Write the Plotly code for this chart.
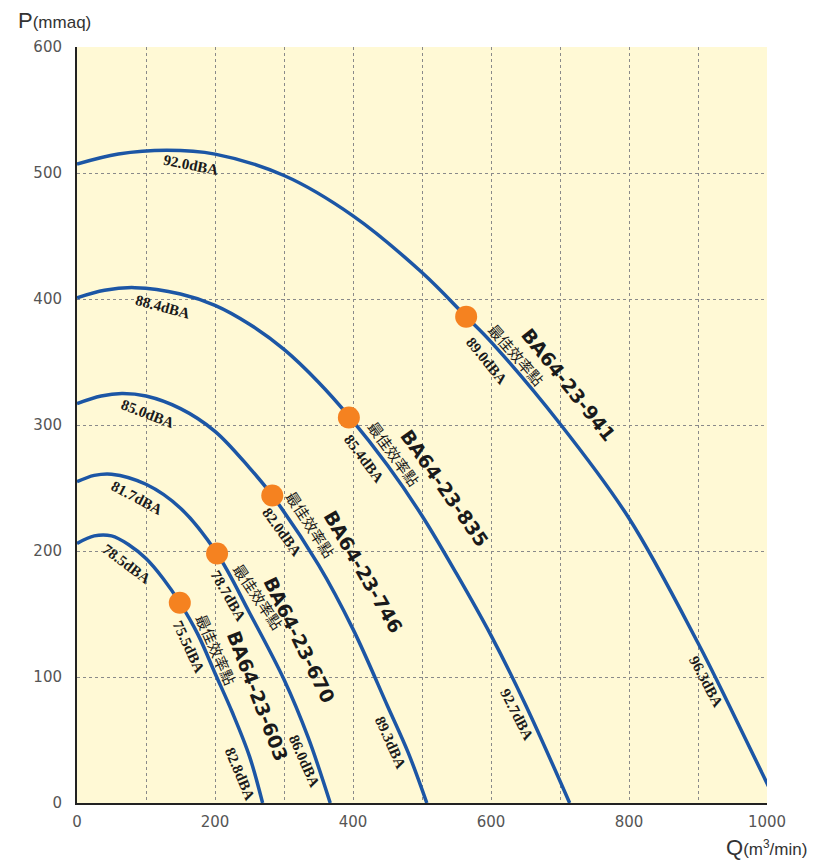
import plotly.graph_objects as go

# ---- data ----
models = ["BA64-23-603", "BA64-23-670", "BA64-23-746", "BA64-23-835", "BA64-23-941"]

q_603 = [0, 25, 50, 75, 100, 125, 149, 175, 200, 225, 250, 269]
p_603 = [206, 212, 212, 205, 194, 178, 159, 134, 103, 72, 37, 0]

q_670 = [0, 25, 50, 100, 150, 203, 250, 300, 335, 367]
p_670 = [255, 260, 261, 253, 234, 198, 151, 98, 52, 0]

q_746 = [0, 35, 65, 100, 150, 200, 250, 283, 350, 400, 450, 480, 507]
p_746 = [317, 323, 325, 323, 313, 295, 266, 244, 189, 138, 77, 40, 0]

q_835 = [0, 40, 84, 150, 200, 250, 300, 350, 394, 450, 500, 550, 600, 650, 714]
p_835 = [401, 407, 409, 404, 395, 380, 360, 334, 307, 268, 228, 182, 133, 78, 0]

q_941 = [0, 60, 130, 200, 300, 400, 500, 564, 600, 700, 800, 900, 950, 1014]
p_941 = [507, 515, 518, 515, 498, 466, 421, 386, 366, 301, 226, 127, 72, 0]

best_q = [149, 203, 283, 394, 564]
best_p = [159, 198, 244, 306, 386]

# noise labels: (text, x, y, angle)
peak_labels = [("78.5dBA", 72, 190, 37), ("81.7dBA", 87, 242, 28), ("85.0dBA", 103, 309, 21),
               ("88.4dBA", 125, 394, 15), ("92.0dBA", 165, 506, 11)]
best_labels = [("75.5dBA", 162, 124, 65), ("78.7dBA", 219, 164, 60), ("82.0dBA", 297, 215, 54),
               ("85.4dBA", 416, 273, 53), ("89.0dBA", 594, 351, 51)]
end_labels = [("82.8dBA", 236, 23, 67), ("86.0dBA", 329, 33, 66), ("89.3dBA", 455, 48, 66),
              ("92.7dBA", 638, 70, 63), ("96.3dBA", 912, 96, 62)]
best_text = "最佳效率點"
best_text_pos = [(202, 122, 66), (263, 164, 56), (339, 221, 57), (459, 277, 54), (637, 356, 49)]
model_pos = [(262, 85, 69), (322, 129, 64), (415, 183, 60), (533, 250, 55), (713, 332, 51.5)]

x_ticks = [0, 200, 400, 600, 800, 1000]
y_ticks = [0, 100, 200, 300, 400, 500, 600]

curve_color = "#1C56A5"
dot_color = "#F58220"
grid_color = "#8a8a8a"

fig = go.Figure()
for q, p in [(q_603, p_603), (q_670, p_670), (q_746, p_746), (q_835, p_835), (q_941, p_941)]:
    fig.add_trace(go.Scatter(x=q, y=p, mode="lines",
                             line=dict(color=curve_color, width=3.5, shape="spline", smoothing=1.0),
                             hoverinfo="skip", showlegend=False))

fig.add_trace(go.Scatter(x=best_q, y=best_p, mode="markers",
                         marker=dict(color=dot_color, size=22, line=dict(width=0)),
                         hoverinfo="skip", showlegend=False))

serif = dict(family="Liberation Serif", size=15, color="#1a1a1a")
ann = []
for t, x, y, a in peak_labels + best_labels + end_labels:
    ann.append(dict(x=x, y=y, xref="x", yref="y", text="<b>%s</b>" % t, showarrow=False,
                    textangle=a, font=serif, xanchor="center", yanchor="middle"))
for (x, y, a) in best_text_pos:
    ann.append(dict(x=x, y=y, xref="x", yref="y", text=best_text, showarrow=False,
                    textangle=a, font=dict(family="Noto Sans CJK TC", size=15, color="#1a1a1a"),
                    xanchor="center", yanchor="middle"))
for m, (x, y, a) in zip(models, model_pos):
    ann.append(dict(x=x, y=y, xref="x", yref="y", text="<b>%s</b>" % m, showarrow=False,
                    textangle=a, font=dict(family="DejaVu Sans", size=19, color="#1a1a1a"),
                    xanchor="center", yanchor="middle"))

# axis titles (paper coords relative to plot area 77..767 x 47..803 in window pixels)
ann.append(dict(x=(16 - 77) / 690, y=(803 - 21) / 756, xref="paper", yref="paper",
                text="P<span style='font-size:17px'>(mmaq)</span>", showarrow=False,
                xanchor="left", yanchor="middle",
                font=dict(family="Liberation Sans", size=22, color="#333333")))
ann.append(dict(x=(809 - 77) / 690, y=(803 - 847) / 756, xref="paper", yref="paper",
                text="Q<span style='font-size:17px'>(m<sup>3</sup>/min)</span>", showarrow=False,
                xanchor="right", yanchor="middle",
                font=dict(family="Liberation Sans", size=22, color="#333333")))

tickfont = dict(family="DejaVu Sans", size=15, color="#555555")
fig.update_layout(
    width=810, height=855,
    margin=dict(l=69, r=51, t=39, b=60),
    paper_bgcolor="white", plot_bgcolor="#FFF9D5",
    annotations=ann,
    xaxis=dict(range=[0, 1000], tickvals=x_ticks, showgrid=True,
               gridcolor=grid_color, griddash="dot", gridwidth=1, zeroline=False,
               minor=dict(dtick=100, tick0=0, showgrid=True, gridcolor=grid_color,
                          griddash="dot", gridwidth=1),
               showline=True, linecolor="#222222", linewidth=2, ticks="",
               tickfont=tickfont, ticklabelstandoff=4),
    yaxis=dict(range=[0, 600], tickvals=y_ticks, showgrid=True,
               gridcolor=grid_color, griddash="dot", gridwidth=1, zeroline=False,
               showline=True, linecolor="#222222", linewidth=2, ticks="",
               tickfont=tickfont, ticklabelstandoff=10),
)

fig.write_html("out.html")
